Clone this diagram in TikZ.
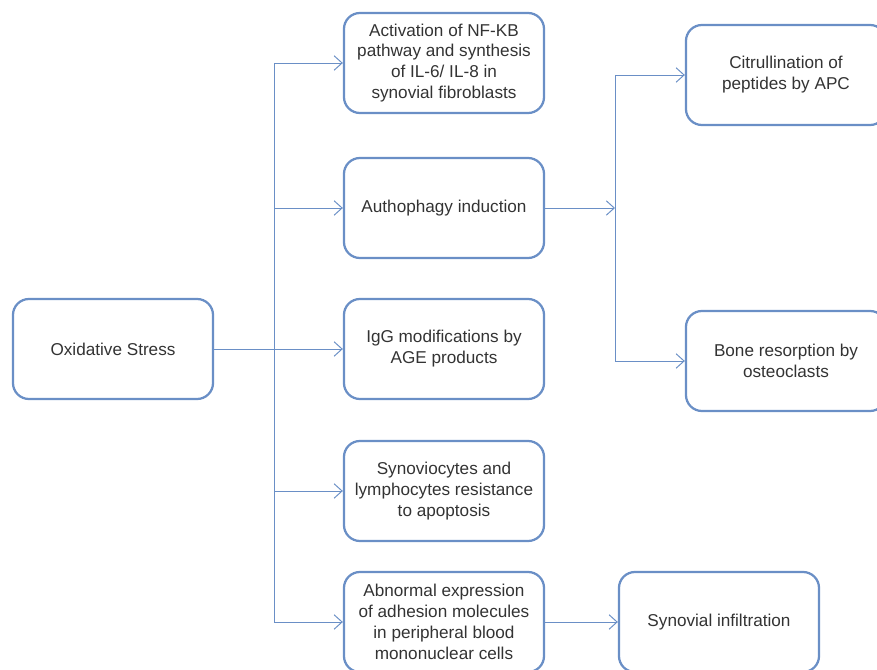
\documentclass[tikz,border=0pt]{standalone}
\usepackage{fontspec}
\setmainfont{Liberation Sans}
\usepackage{tikz}
\usetikzlibrary{positioning,arrows.meta}
\definecolor{boxblue}{HTML}{6A8FC6}
\definecolor{textgray}{HTML}{333333}
\tikzstyle{stage} = [rectangle, rounded corners=0.4cm, draw=boxblue, line width=1.6pt,
                     minimum width=5cm, minimum height=2.5cm, align=center,
                     text=textgray, font=\fontsize{12.2}{14.9}\selectfont]
\tikzstyle{link}  = [draw=boxblue, line width=0.7pt, -{Straight Barb[length=2mm,width=3.6mm]}]

\begin{document}
\begin{tikzpicture}[x=0.025cm, y=-0.025cm]
        \useasboundingbox (0,0) rectangle (877,670);

        \node[stage] (stress) at (113,349) {Oxidative Stress};
        \node[stage] (nfkb)   at (444,63)  {Activation of NF-KB\\pathway and synthesis\\of IL-6/ IL-8 in\\synovial fibroblasts};
        \node[stage] (auto)   at (444,208) {Authophagy induction};
        \node[stage] (igg)    at (444,349) {IgG modifications by\\AGE products};
        \node[stage] (synov)  at (444,491) {Synoviocytes and\\lymphocytes resistance\\to apoptosis};
        \node[stage] (adhes)  at (444,622) {Abnormal expression\\of adhesion molecules\\in peripheral blood\\mononuclear cells};
        \node[stage] (citr)   at (786,75)  {Citrullination of\\peptides by APC};
        \node[stage] (bone)   at (786,361) {Bone resorption by\\osteoclasts};
        \node[stage] (infil)  at (719,622) {Synovial infiltration};

        \coordinate (trunk) at (274,349);
        \coordinate (split) at (615,208);

        \draw[link] (stress) -- (igg);
        \draw[draw=boxblue, line width=0.7pt] (trunk |- nfkb.west) -- (trunk |- adhes.west);
        \foreach \n in {nfkb,auto,synov,adhes}
            \draw[link] (trunk |- \n.west) -- (\n.west);

        \draw[link] (auto) -- (split);
        \draw[draw=boxblue, line width=0.7pt] (split |- citr.west) -- (split |- bone.west);
        \draw[link] (split |- citr.west) -- (citr.west);
        \draw[link] (split |- bone.west) -- (bone.west);
        \draw[link] (adhes) -- (infil);
    \end{tikzpicture}
\end{document}
